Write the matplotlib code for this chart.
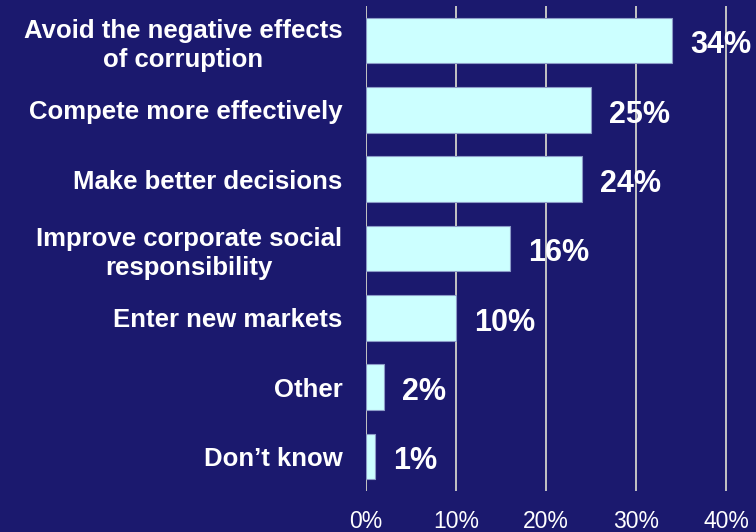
import matplotlib
matplotlib.use('Agg')
import matplotlib.pyplot as plt
from matplotlib.ticker import FuncFormatter

plt.rcParams['font.family'] = ['Liberation Sans', 'DejaVu Sans']

# reasons, top to bottom
reasons = [
    'Avoid the negative effects\nof corruption',
    'Compete more effectively',
    'Make better decisions',
    'Improve corporate social\nresponsibility',
    'Enter new markets',
    'Other',
    'Don\u2019t know',
]
shares = [34, 25, 24, 16, 10, 2, 1]
xticks = [0, 10, 20, 30, 40]

navy = '#1b196e'
bar_fill = '#ccffff'

fig = plt.figure(figsize=(7.56, 5.32), dpi=100, facecolor=navy)
ax = fig.add_axes([0.484, 0.077, 0.516, 0.912])
ax.set_facecolor(navy)

ypos = list(range(len(reasons)))
bars = ax.barh(ypos, shares, height=0.66, color=bar_fill,
               edgecolor='#8c9cc8', linewidth=0.8, zorder=3)

for y, v in zip(ypos, shares):
    ax.annotate('{}%'.format(v), xy=(v, y), xytext=(13, -1),
                textcoords='offset points', ha='left', va='center_baseline',
                color='white', fontsize=22, fontweight='bold', zorder=4)

ax.set_xlim(0, 43.3)
ax.set_ylim(len(reasons) - 0.5, -0.5)
ax.set_xticks(xticks)
ax.xaxis.set_major_formatter(FuncFormatter(lambda v, p: '{:.0f}%'.format(v)))
ax.set_yticks(ypos)
ax.set_yticklabels(reasons, multialignment='center', linespacing=1.25)

ax.grid(axis='x', color='#c4c4c4', linewidth=1.4, zorder=1)
ax.set_axisbelow(True)
for s in ax.spines.values():
    s.set_visible(False)

ax.tick_params(axis='x', length=0, pad=14, labelsize=16.5, labelcolor='white')
ax.tick_params(axis='y', length=0, pad=17, labelsize=18.5, labelcolor='white')
for t in ax.get_yticklabels():
    t.set_fontweight('bold')

fig.savefig('out.png', dpi=100, facecolor=navy)
